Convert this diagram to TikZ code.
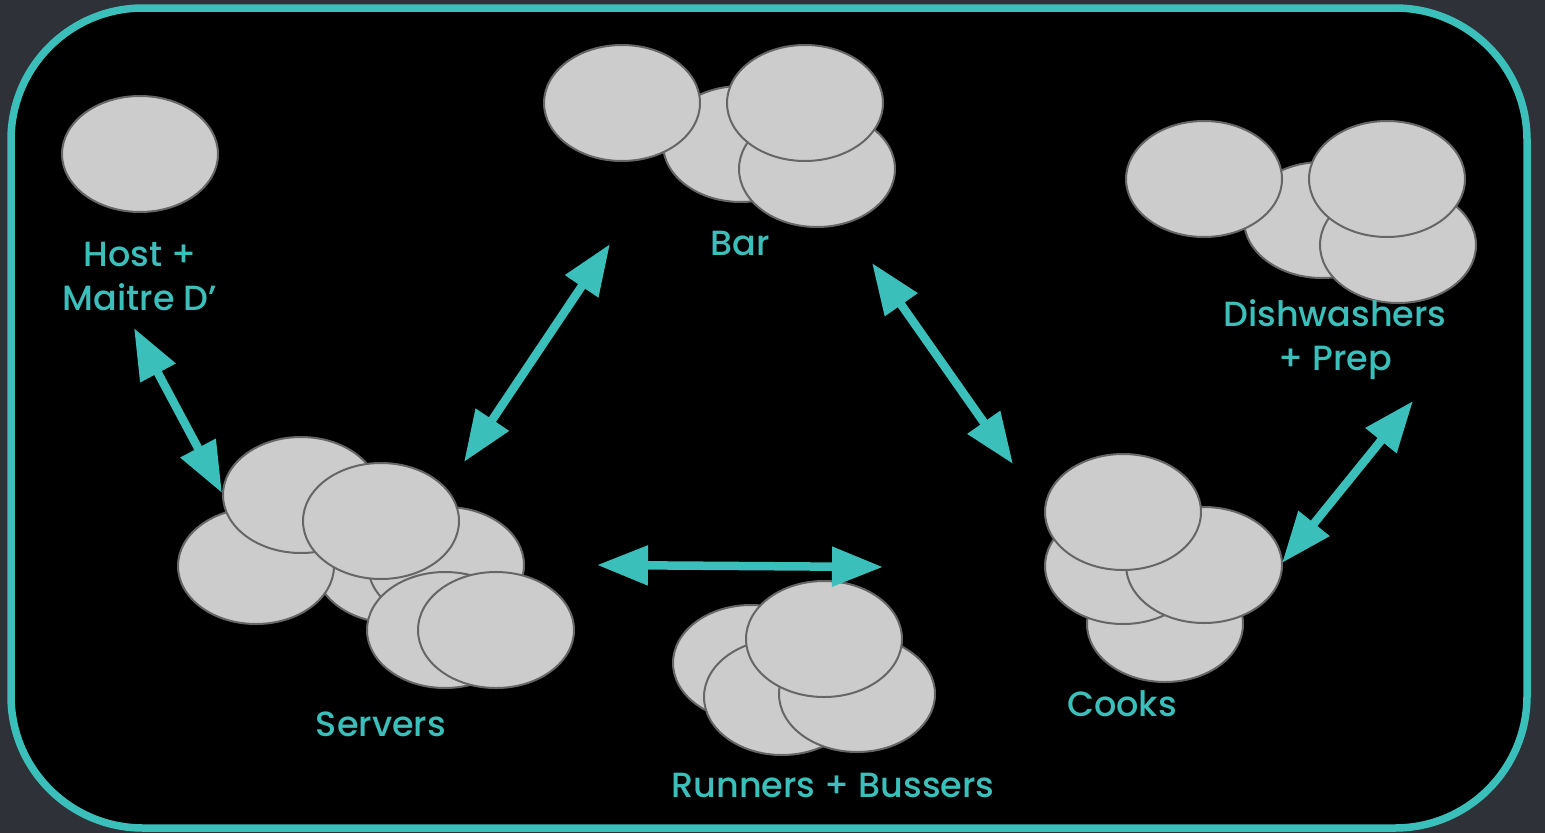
\documentclass[tikz,border=0pt]{standalone}
\usepackage{fontspec}
\setmainfont{Poppins Medium}
\usetikzlibrary{shapes.geometric,arrows.meta}
\definecolor{teal}{HTML}{3BBFBA}
\definecolor{slate}{HTML}{2E3138}
\definecolor{plate}{HTML}{CCCCCC}
\definecolor{rim}{HTML}{666666}
\tikzset{
  person/.style={ellipse, draw=rim, fill=plate, line width=2pt,
    minimum width=156pt, minimum height=116pt, inner sep=0pt},
  role/.style={text=teal, align=center, font=\fontsize{35}{44}\selectfont},
  link/.style={draw=teal, line width=8.5pt,
    {Triangle[length=51pt,width=38pt]}-{Triangle[length=51pt,width=38pt]}}
}
\begin{document}
\begin{tikzpicture}[x=1pt,y=-1pt]
% page and frame
\fill[slate] (0,0) rectangle (1545,833);
\useasboundingbox (0,0) rectangle (1545,833);
\draw[teal, fill=black, line width=7.5pt, rounded corners=132pt] (11,8) rectangle (1527,828);

% host + maitre d'
\node[person] (host) at (140,154) {};
\node[role] (hostlbl) at (140,276) {Host +\\Maitre D’};

% bar
\node[person] (bar2) at (741,144) {};
\node[person] (bar1) at (622,103) {};
\node[person] (bar4) at (817,169) {};
\node[person] (bar3) at (805,103) {};
\node[role] (barlbl) at (740,243) {Bar};

% dishwashers + prep
\node[person] (dish2) at (1322,220) {};
\node[person] (dish1) at (1204,179) {};
\node[person] (dish4) at (1398,245) {};
\node[person] (dish3) at (1387,179) {};
\node[role] (dishlbl) at (1335,340) {Dishwashers\\+ Prep};

% servers
\node[person] (srv3) at (393,565) {};
\node[person] (srv1) at (256,566) {};
\node[person] (srv2) at (301,495) {};
\node[person] (srv4) at (446,565) {};
\node[person] (srv5) at (381,521) {};
\node[person] (srv6) at (445,630) {};
\node[person] (srv7) at (496,630) {};
\node[role] (srvlbl) at (381,724) {Servers};

% runners + bussers
\node[person] (run1) at (751,663) {};
\node[person] (run2) at (782,697) {};
\node[person] (run3) at (857,694) {};
\node[person] (run4) at (824,639) {};
\node[role] (runlbl) at (833,785) {Runners + Bussers};

% cooks
\node[person] (cook4) at (1165,624) {};
\node[person] (cook2) at (1123,566) {};
\node[person] (cook3) at (1204,565) {};
\node[person] (cook1) at (1123,512) {};
\node[role] (cooklbl) at (1122,704) {Cooks};

% arrow ends
\coordinate (hostA) at (134,328);
\coordinate (srvA) at (222,493);
\coordinate (barA) at (610,244);
\coordinate (srvB) at (464,462);
\coordinate (barB) at (872,263);
\coordinate (cookA) at (1013,464);
\coordinate (srvC) at (597,565);
\coordinate (runA) at (883,567);
\coordinate (dishA) at (1413,401);
\coordinate (cookB) at (1282,563);

% relations
\draw[link] (hostA) -- (srvA);
\draw[link] (barA) -- (srvB);
\draw[link] (barB) -- (cookA);
\draw[link] (srvC) -- (runA);
\draw[link] (dishA) -- (cookB);
\end{tikzpicture}
\end{document}
